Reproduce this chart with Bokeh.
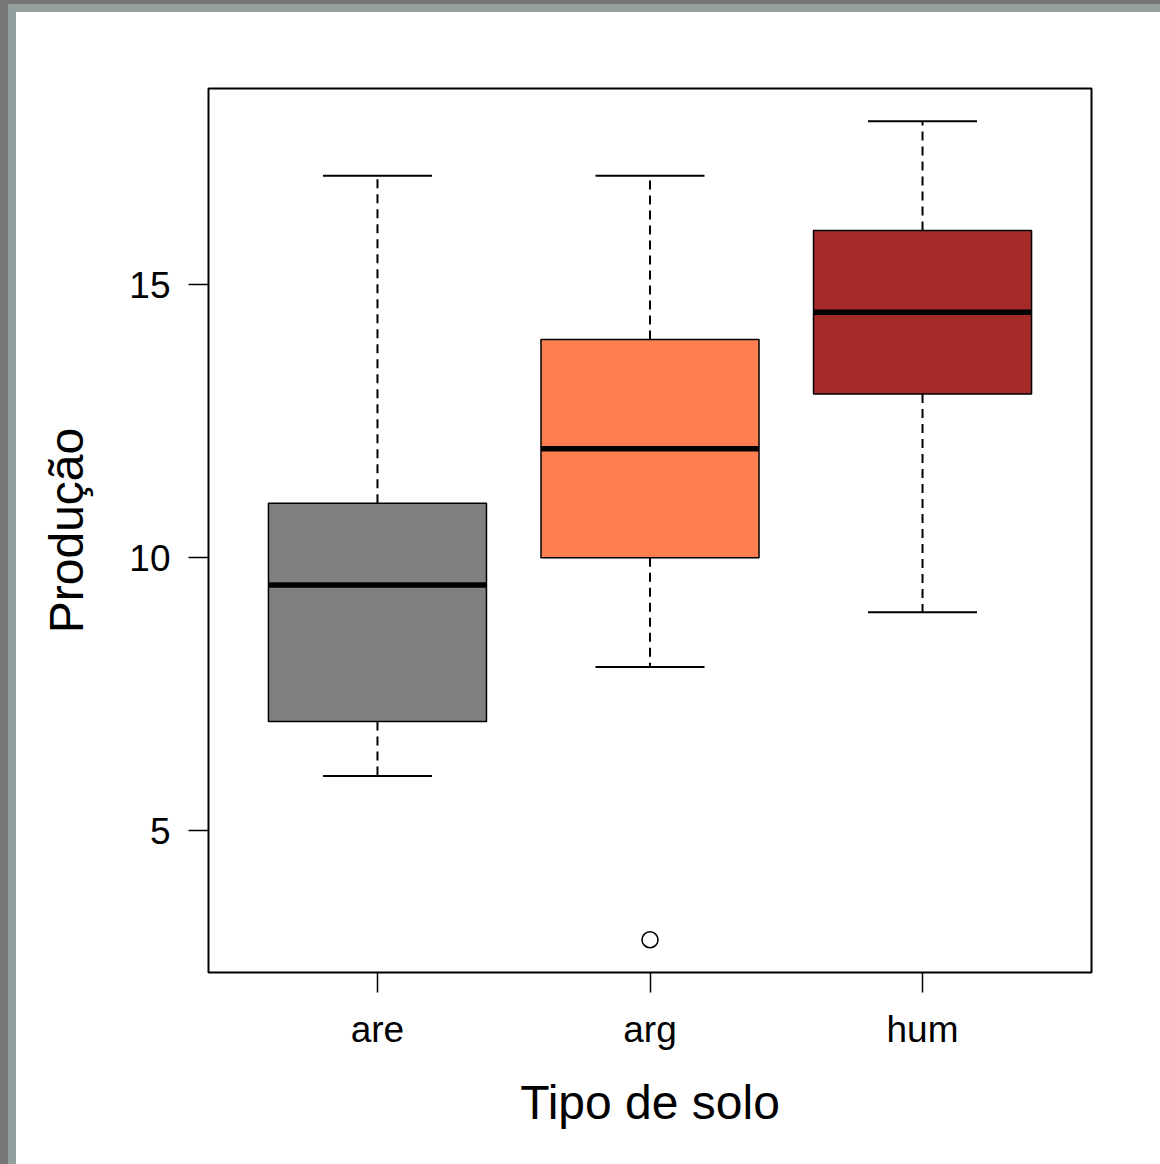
from bokeh.plotting import figure
from bokeh.models import FixedTicker, Div, ColumnDataSource
from bokeh.layouts import column, row
from bokeh.embed import file_html
from bokeh.resources import INLINE

# ---- data ----
categories = ["are", "arg", "hum"]
q1 = [7.0, 10.0, 13.0]
median = [9.5, 12.0, 14.5]
q3 = [11.0, 14.0, 16.0]
whisker_low = [6.0, 8.0, 9.0]
whisker_high = [17.0, 17.0, 18.0]
outlier_cat = ["arg"]
outlier_val = [3.0]
colors = ["#808080", "#FF7F50", "#A52A2A"]
y_ticks = [5, 10, 15]

pos = [i + 1 for i in range(len(categories))]
BOX_W = 0.8
CAP_W = 0.4

FONT = "Liberation Sans"

p = figure(width=1144, height=1152, x_range=(0.38, 3.62), y_range=(2.4, 18.6),
           output_backend="svg", toolbar_location=None,
           min_border_left=192, min_border_right=69, min_border_top=76, min_border_bottom=192,
           background_fill_color="white", border_fill_color="white")
p.outline_line_color = "black"
p.outline_line_width = 2
p.xgrid.visible = False
p.ygrid.visible = False

src = ColumnDataSource(dict(
    x=pos, q1=q1, med=median, q3=q3, lo=whisker_low, hi=whisker_high, color=colors,
    bl=[x - BOX_W / 2 for x in pos], br=[x + BOX_W / 2 for x in pos],
    cl=[x - CAP_W / 2 for x in pos], cr=[x + CAP_W / 2 for x in pos],
))

# whiskers (dashed)
p.segment(x0="x", y0="q3", x1="x", y1="hi", source=src, line_color="black",
          line_width=2, line_dash="9 6")
p.segment(x0="x", y0="q1", x1="x", y1="lo", source=src, line_color="black",
          line_width=2, line_dash="9 6")
# caps
p.segment(x0="cl", y0="hi", x1="cr", y1="hi", source=src, line_color="black", line_width=2)
p.segment(x0="cl", y0="lo", x1="cr", y1="lo", source=src, line_color="black", line_width=2)
# boxes
p.vbar(x="x", width=BOX_W, top="q3", bottom="q1", source=src, fill_color="color",
       line_color="black", line_width=1.5)
# medians
p.segment(x0="bl", y0="med", x1="br", y1="med", source=src, line_color="black", line_width=5.5)
# outliers
ox = [categories.index(c) + 1 for c in outlier_cat]
p.scatter(ox, outlier_val, size=16, marker="circle", fill_color=None,
          line_color="black", line_width=1.6)

# axes
p.xaxis.ticker = FixedTicker(ticks=pos)
p.xaxis.major_label_overrides = {x: c for x, c in zip(pos, categories)}
p.yaxis.ticker = FixedTicker(ticks=y_ticks)
for ax in (p.xaxis[0], p.yaxis[0]):
    ax.axis_line_color = None
    ax.major_tick_in = 0
    ax.major_tick_out = 20
    ax.major_tick_line_width = 1.5
    ax.major_tick_line_color = "black"
    ax.minor_tick_line_color = None
    ax.major_label_text_font = FONT
    ax.major_label_text_font_size = "37px"
    ax.major_label_text_color = "black"
    ax.axis_label_text_font = FONT
    ax.axis_label_text_font_size = "48px"
    ax.axis_label_text_font_style = "normal"
    ax.axis_label_text_color = "black"

p.xaxis.axis_label = "Tipo de solo"
p.yaxis.axis_label = "Produção"
p.xaxis.major_label_standoff = 16
p.xaxis.axis_label_standoff = 23
p.yaxis.major_label_standoff = 18
p.yaxis.axis_label_standoff = 33
p.yaxis.major_label_orientation = "horizontal"

DARK = "#767676"
LIGHT = "#92A09F"

def strip(w, h, c):
    return Div(width=w, height=h, margin=0, styles={"background-color": c})

layout = column(
    strip(1160, 4, DARK),
    row(
        strip(8, 1160, DARK),
        column(
            strip(1152, 8, LIGHT),
            row(strip(8, 1152, LIGHT), p, spacing=0),
            spacing=0,
        ),
        spacing=0,
    ),
    spacing=0,
)

open("out.html", "w").write(file_html(layout, INLINE))
